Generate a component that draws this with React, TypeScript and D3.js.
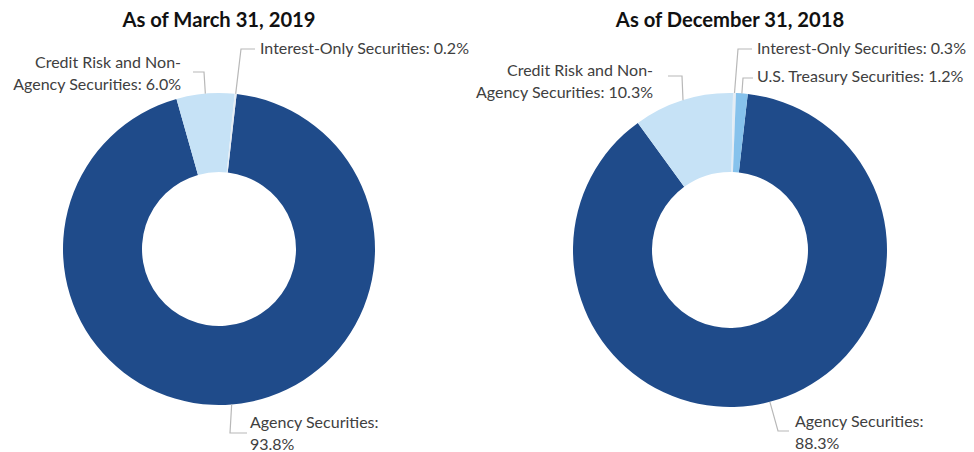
import React from "react";
import * as d3 from "d3";

const leftTitle = "As of March 31, 2019";
const leftCategories = ["Agency Securities", "Credit Risk and Non-Agency Securities", "Interest-Only Securities"];
const leftValues = [93.8, 6.0, 0.2];

const rightTitle = "As of December 31, 2018";
const rightCategories = ["Agency Securities", "Credit Risk and Non-Agency Securities", "Interest-Only Securities", "U.S. Treasury Securities"];
const rightValues = [88.3, 10.3, 0.3, 1.2];

const colorMap: Record<string, string> = {
  "Agency Securities": "#1f4b8a",
  "Credit Risk and Non-Agency Securities": "#c6e2f6",
  "Interest-Only Securities": "#e4ecf4",
  "U.S. Treasury Securities": "#86c2ec",
};

type LabelLayout = {
  lines: string[];
  anchor: "start" | "end";
  tx: number;
  ty: number; // first baseline
  elbow: [number, number];
  end: [number, number];
};

const FONT = "Lato, 'Open Sans', sans-serif";
const START = (6.5 * Math.PI) / 180;

function Donut({
  cx, cy, r, ir, title, categories, values, layouts,
}: {
  cx: number; cy: number; r: number; ir: number; title: string;
  categories: string[]; values: number[]; layouts: Record<string, LabelLayout>;
}) {
  const data = categories.map((c, i) => ({ c, v: values[i] }));
  const pie = d3.pie<{ c: string; v: number }>().value((d) => d.v).sort(null)
    .startAngle(START).endAngle(START + 2 * Math.PI);
  const arcs = pie(data);
  const arc = d3.arc<d3.PieArcDatum<{ c: string; v: number }>>().innerRadius(ir).outerRadius(r);
  return (
    <g>
      <text x={cx} y={27} textAnchor="middle" fontFamily={FONT} fontWeight={700} fontSize={20.2} fill="#111">
        {title}
      </text>
      <g transform={`translate(${cx},${cy})`}>
        {arcs.map((a) => (
          <path key={a.data.c} d={arc(a) || ""} fill={colorMap[a.data.c]} stroke="none" />
        ))}
      </g>
      {arcs.map((a) => {
        const L = layouts[a.data.c];
        if (!L) return null;
        const mid = (a.startAngle + a.endAngle) / 2;
        const ax = cx + r * Math.sin(mid);
        const ay = cy - r * Math.cos(mid);
        const pct = `${a.data.v.toFixed(1)}%`;
        return (
          <g key={"l" + a.data.c}>
            <polyline
              points={`${ax},${ay} ${L.elbow[0]},${L.elbow[1]} ${L.end[0]},${L.end[1]}`}
              fill="none" stroke="#b8b8b8" strokeWidth={1.2}
            />
            <text x={L.tx} y={L.ty} textAnchor={L.anchor} fontFamily={FONT} fontSize={16} fill="#404040">
              {L.lines.map((ln, i) => (
                <tspan key={i} x={L.tx} dy={i === 0 ? 0 : 22}>
                  {ln.replace("{p}", pct)}
                </tspan>
              ))}
            </text>
          </g>
        );
      })}
    </g>
  );
}

const leftLayouts: Record<string, LabelLayout> = {
  "Credit Risk and Non-Agency Securities": {
    lines: ["Credit Risk and Non-", "Agency Securities: {p}"], anchor: "end", tx: 181, ty: 68,
    elbow: [204, 72], end: [193, 72],
  },
  "Interest-Only Securities": {
    lines: ["Interest-Only Securities: {p}"], anchor: "start", tx: 260, ty: 54,
    elbow: [241, 49], end: [255, 49],
  },
  "Agency Securities": {
    lines: ["Agency Securities:", "{p}"], anchor: "start", tx: 250, ty: 428,
    elbow: [230, 433], end: [247, 433],
  },
};

const rightLayouts: Record<string, LabelLayout> = {
  "Credit Risk and Non-Agency Securities": {
    lines: ["Credit Risk and Non-", "Agency Securities: {p}"], anchor: "end", tx: 653, ty: 76,
    elbow: [682, 76], end: [668, 76],
  },
  "Interest-Only Securities": {
    lines: ["Interest-Only Securities: {p}"], anchor: "start", tx: 757, ty: 54,
    elbow: [738, 49], end: [752, 49],
  },
  "U.S. Treasury Securities": {
    lines: ["U.S. Treasury Securities: {p}"], anchor: "start", tx: 757, ty: 82,
    elbow: [743, 78], end: [753, 78],
  },
  "Agency Securities": {
    lines: ["Agency Securities:", "{p}"], anchor: "start", tx: 795, ty: 427,
    elbow: [778, 431], end: [789, 431],
  },
};

export default function App() {
  return (
    <svg width={974} height={452} style={{ position: "absolute", left: 0, top: 0, background: "#fff" }}>
      <rect width={974} height={452} fill="#fff" />
      <Donut cx={219} cy={249} r={156} ir={77} title={leftTitle}
        categories={leftCategories} values={leftValues} layouts={leftLayouts} />
      <Donut cx={730} cy={250} r={157} ir={78} title={rightTitle}
        categories={rightCategories} values={rightValues} layouts={rightLayouts} />
    </svg>
  );
}
